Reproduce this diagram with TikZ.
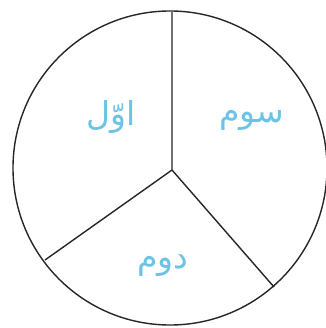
\documentclass[tikz,border=0pt]{standalone}
\usepackage{fontspec}
\newfontfamily\arabicfont[Script=Arabic]{DejaVu Sans}
\TeXXeTstate=1
\definecolor{lbl}{HTML}{6CC3E6}
\tikzset{lab/.style={text=lbl, font=\arabicfont\fontsize{33}{40}\selectfont, inner sep=0pt}}
\begin{document}
\begin{tikzpicture}[x=1pt,y=-1pt, line width=1.4pt, draw=black!85]
\useasboundingbox (0,0) rectangle (325,328);
\draw[draw=black!85] (170,168) circle[radius=157pt];
\coordinate (o) at (172,170);
\coordinate (t) at (172,12);
\coordinate (l) at (45,260);
\coordinate (r) at (274,287);
\draw[draw=black!85] (o) -- (t) (o) -- (l) (o) -- (r);
\node[lab] (a) at (111,117) {\beginR اوّل\endR};
\node[lab] (b) at (252,120) {\beginR سوم\endR};
\node[lab] (d) at (163,266) {\beginR دوم\endR};
\end{tikzpicture}
\end{document}
